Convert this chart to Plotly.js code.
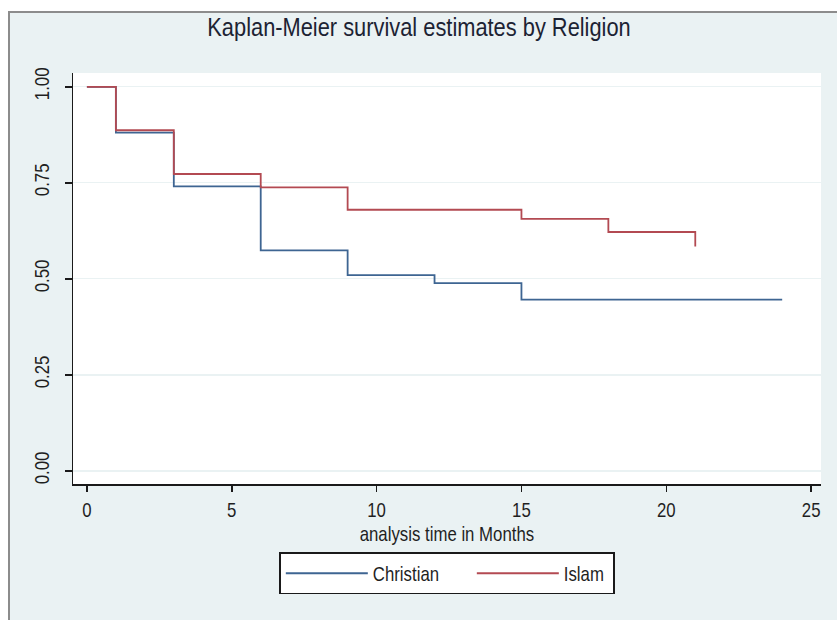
<!DOCTYPE html>
<html>
<head>
<meta charset="utf-8">
<script src="https://cdn.plot.ly/plotly-3.0.1.min.js"></script>
<style>
  html, body { margin: 0; padding: 0; background: #ffffff; width: 837px; height: 620px; overflow: hidden; }
  #frame { position: absolute; left: 8px; top: 11px; width: 827px; height: 609px;
           border-left: 2px solid #8c8c8c; border-top: 2px solid #8c8c8c; background: #eaf2f3; }
  #chart { width: 827px; height: 607px; }
</style>
</head>
<body>
<div id="frame"><div id="chart"></div></div>
<script>
// Kaplan-Meier step data
const christianTime     = [0, 1, 3, 6, 9, 12, 15, 24];
const christianSurvival = [1.000, 0.881, 0.741, 0.574, 0.510, 0.489, 0.446, 0.446];
const islamTime         = [0, 1, 3, 6, 9, 15, 18, 21];
const islamSurvival     = [1.000, 0.887, 0.773, 0.738, 0.680, 0.656, 0.622, 0.584];
const xTickVals = [0, 5, 10, 15, 20, 25];
const xTickText = ["0", "5", "10", "15", "20", "25"];
const yTickVals = [0, 0.25, 0.5, 0.75, 1];
const yTickText = ["0.00", "0.25", "0.50", "0.75", "1.00"];
const seriesNames = ["Christian", "Islam"];
const xAxisTitle = "analysis time in Months";

const FONT = "Liberation Sans, Arial, sans-serif";
const TEXT = "#1f1f1f";
const CONDENSE = 0.84;   // the reference uses a narrow (condensed) sans face

const traces = [
  { x: christianTime, y: christianSurvival, name: seriesNames[0], type: "scatter", mode: "lines",
    line: { shape: "hv", color: "#3e6592", width: 1.8 } },
  { x: islamTime, y: islamSurvival, name: seriesNames[1], type: "scatter", mode: "lines",
    line: { shape: "hv", color: "#b34a52", width: 1.8 } }
];

const layout = {
  width: 827, height: 607,
  margin: { l: 63, r: 16, t: 60, b: 136 },
  paper_bgcolor: "rgba(0,0,0,0)",
  plot_bgcolor: "#ffffff",
  font: { family: FONT, size: 20, color: TEXT },
  title: { text: "Kaplan-Meier survival estimates by Religion",
           font: { family: FONT, size: 26, color: "#1c2333" },
           x: 0.4946, xref: "container", xanchor: "center",
           y: 0.977, yref: "container", yanchor: "middle" },
  xaxis: {
    range: [-0.48, 25.34], tickvals: xTickVals, ticktext: xTickText,
    showline: true, linecolor: "#1a1a1a", linewidth: 1.5,
    ticks: "outside", ticklen: 6, tickcolor: "#1a1a1a", tickwidth: 1.5,
    ticklabelstandoff: 2,
    showgrid: false, zeroline: false,
    tickfont: { family: FONT, size: 20, color: TEXT }
  },
  yaxis: {
    range: [-0.034, 1.036], tickvals: yTickVals, ticktext: yTickText,
    showline: true, linecolor: "#1a1a1a", linewidth: 1.5,
    ticks: "outside", ticklen: 7, tickcolor: "#1a1a1a", tickwidth: 1.5,
    tickangle: -90, ticklabelstandoff: 8,
    showgrid: true, gridcolor: "#eaf2f3", gridwidth: 1.2, zeroline: false,
    tickfont: { family: FONT, size: 20, color: TEXT }
  },
  annotations: [
    { text: xAxisTitle, xref: "paper", yref: "paper", x: 0.5, y: -0.122,
      xanchor: "center", yanchor: "middle", showarrow: false,
      font: { family: FONT, size: 20, color: TEXT } }
  ],
  showlegend: true,
  legend: {
    orientation: "h", x: 0.5, xanchor: "center", y: -0.166, yanchor: "top",
    bgcolor: "#ffffff", bordercolor: "#1a1a1a", borderwidth: 1.5,
    font: { family: FONT, size: 20, color: TEXT },
    itemwidth: 82, entrywidth: 94, entrywidthmode: "pixels"
  }
};

// Narrow every text along its own reading direction, keeping its anchor point fixed
function condenseText(gd, s) {
  gd.querySelectorAll("svg text").forEach(function (t) {
    if (t.getAttribute("data-condensed")) return;
    const x = parseFloat(t.getAttribute("x")) || 0;
    const prev = t.getAttribute("transform") || "";
    t.setAttribute("transform", prev + " translate(" + x + ",0) scale(" + s + ",1) translate(" + (-x) + ",0)");
    t.setAttribute("data-condensed", "1");
  });
}

// Fit the legend box to its (narrowed) entries and keep it centred
function fitLegend(gd) {
  const leg = gd.querySelector("g.legend");
  if (!leg) return;
  const bg = leg.querySelector("rect.bg");
  const texts = leg.querySelectorAll("text.legendtext");
  if (!bg || !texts.length) return;
  let maxRight = -Infinity;
  texts.forEach(function (t) { maxRight = Math.max(maxRight, t.getBoundingClientRect().right); });
  const bgBox = bg.getBoundingClientRect();
  const oldW = parseFloat(bg.getAttribute("width"));
  const newW = (maxRight + 10) - bgBox.left;
  if (!(newW > 0) || newW >= oldW) return;
  bg.setAttribute("width", newW);
  const tr = leg.getAttribute("transform") || "";
  const m = tr.match(/translate\(\s*([-\d.e]+)[ ,]+([-\d.e]+)\s*\)/);
  if (m) {
    const nx = parseFloat(m[1]) + (oldW - newW) / 2;
    leg.setAttribute("transform", "translate(" + nx + "," + m[2] + ")");
  }
}

Plotly.newPlot("chart", traces, layout, { displayModeBar: false, staticPlot: true })
  .then(function (gd) { condenseText(gd, CONDENSE); fitLegend(gd); });
</script>
</body>
</html>
